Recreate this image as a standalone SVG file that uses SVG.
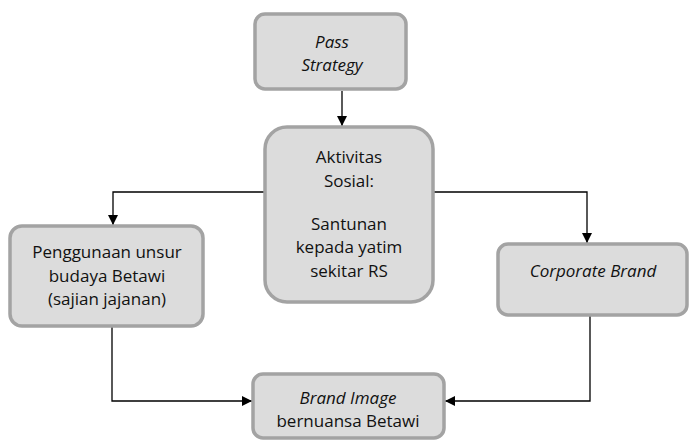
<svg xmlns="http://www.w3.org/2000/svg" width="689" height="441" viewBox="0 0 689 441">
<defs>
<style>
.box{fill:#dcdcdc;stroke:#a3a3a3;stroke-width:3.5}
.t{font-family:"Open Sans","Liberation Sans",sans-serif;font-size:17px;fill:#111;text-anchor:middle}
.i{font-style:italic}
.c{fill:none;stroke:#000;stroke-width:1.3}
</style>
<marker id="ah" viewBox="0 0 10 10" refX="10" refY="5" markerWidth="10" markerHeight="10" markerUnits="userSpaceOnUse" orient="auto">
<path d="M0,0 L10,5 L0,10 z" fill="#000"/>
</marker>
</defs>
<rect width="689" height="441" fill="#fff"/>
<g id="connectors">
<path class="c" d="M342,91 V126" marker-end="url(#ah)"/>
<path class="c" d="M264,192 H113 V225" marker-end="url(#ah)"/>
<path class="c" d="M434,192 H587 V243" marker-end="url(#ah)"/>
<path class="c" d="M112,327 V401 H252" marker-end="url(#ah)"/>
<path class="c" d="M590,316 V401 H445" marker-end="url(#ah)"/>
</g>
<g id="pass">
<rect class="box" x="255" y="14" width="151" height="75" rx="10" stroke-width="4.5"/>
<text class="t i" x="332" y="48">Pass</text>
<text class="t i" x="332" y="71">Strategy</text>
</g>
<g id="aktivitas">
<rect class="box" x="265" y="127" width="168" height="175" rx="22"/>
<text class="t" x="349" y="163">Aktivitas</text>
<text class="t" x="349" y="187">Sosial:</text>
<text class="t" x="349" y="230">Santunan</text>
<text class="t" x="349" y="253">kepada yatim</text>
<text class="t" x="349" y="277">sekitar RS</text>
</g>
<g id="penggunaan">
<rect class="box" x="10" y="226" width="193" height="100" rx="12"/>
<text class="t" x="107" y="258">Penggunaan unsur</text>
<text class="t" x="107" y="282">budaya Betawi</text>
<text class="t" x="107" y="305">(sajian jajanan)</text>
</g>
<g id="corporate">
<rect class="box" x="498" y="244" width="189" height="71" rx="10"/>
<text class="t i" x="593" y="277">Corporate Brand</text>
</g>
<g id="brandimage">
<rect class="box" x="253" y="374" width="191" height="64" rx="10"/>
<text class="t i" x="348" y="404">Brand Image</text>
<text class="t" x="348" y="427">bernuansa Betawi</text>
</g>
</svg>
